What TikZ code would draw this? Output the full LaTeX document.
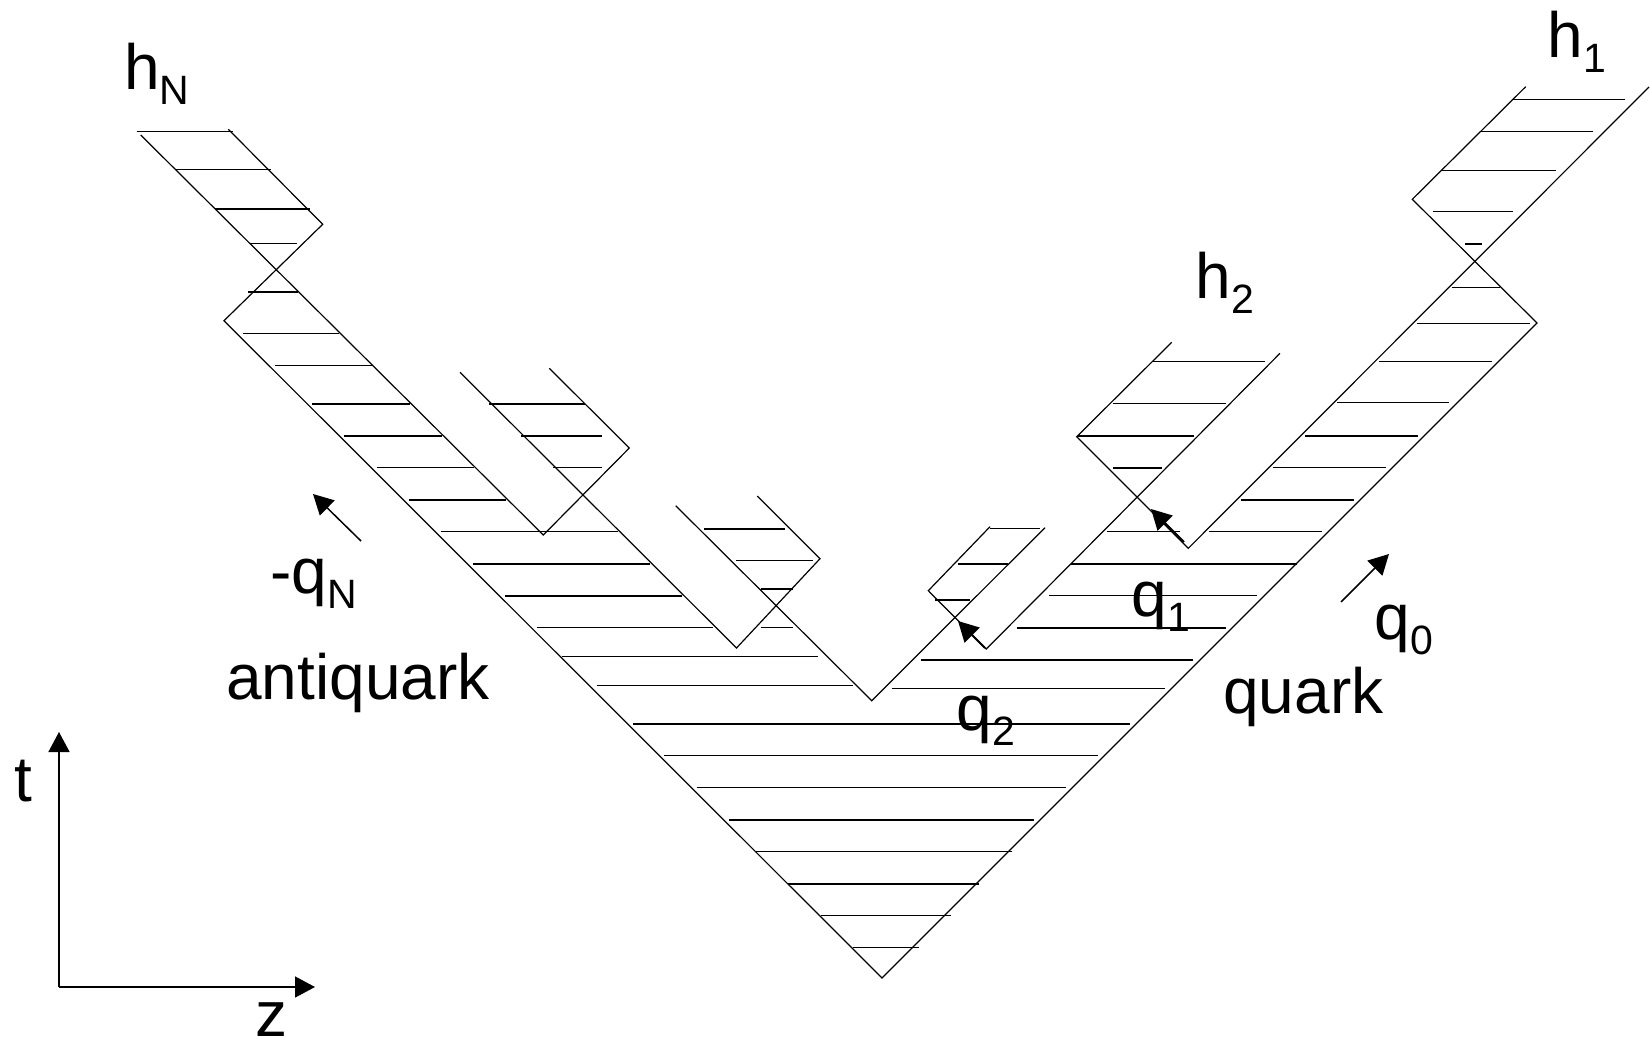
\documentclass[tikz,border=0pt]{standalone}
\usepackage{fontspec}
\setmainfont{Liberation Sans}
\usetikzlibrary{arrows.meta}
\newcommand{\lowsub}[1]{\raisebox{-7.5pt}{\fontsize{20.5}{21}\selectfont #1}}

\begin{document}
\begin{tikzpicture}[x=0.5pt, y=-0.5pt,
    >={Triangle[length=10pt, width=10.5pt]},
    edge/.style={line width=0.6pt, black},
    hatch/.style={line width=0.65pt, black},
    mom/.style={->, line width=0.75pt},
    kick/.style={->, line width=1pt},
    axis/.style={->, line width=0.75pt},
    lbl/.style={font=\fontsize{32}{38}\selectfont, inner sep=0pt,
        anchor=base west}]

  \useasboundingbox (0,0) rectangle (1650,1044);

  % ---- vertices of the string area ----
  \coordinate (A)    at (882,978);
  \coordinate (P)    at (224,320.7);
  \coordinate (HNr)  at (322.7,224.3);
  \coordinate (HNt)  at (228.3,129.3);
  \coordinate (HNl)  at (140.7,135);
  \coordinate (VN)   at (543.3,535);
  \coordinate (HNa)  at (629.3,448);
  \coordinate (HNat) at (549.3,368.3);
  \coordinate (HNal) at (460,372.3);
  \coordinate (VNa)  at (736.5,648);
  \coordinate (HNb)  at (820,558.7);
  \coordinate (HNbt) at (757.3,496);
  \coordinate (HNbl) at (675.7,505.7);
  \coordinate (B)    at (871.7,700.7);
  \coordinate (R)    at (1537,323);
  \coordinate (H1l)  at (1412.3,199.3);
  \coordinate (H1t)  at (1525.7,86.7);
  \coordinate (H1r)  at (1649,87);
  \coordinate (Q1)   at (1188.3,548.3);
  \coordinate (H2l)  at (1076.7,436.7);
  \coordinate (H2t)  at (1171.7,342.3);
  \coordinate (Q2)   at (986.3,649);
  \coordinate (H2r)  at (1280,353.3);
  \coordinate (H3l)  at (928.3,590.7);
  \coordinate (H3t)  at (990,526.7);
  \coordinate (H3r)  at (1045,527.7);

  % ---- hatching, quark side and bottom ----
  \draw[hatch] (1513.3,99.3) -- (1625,99.3) (1481,131.7) -- (1593.3,131.7)
    (1442.3,170.7) -- (1555.7,170.7) (1432.7,211.7) -- (1513.3,211.7)
    (1465,244) -- (1481.7,244) (1451.7,287.3) -- (1500,287.3)
    (1416.7,323.3) -- (1530,323.3) (1379.3,361.7) -- (1491.7,361.7)
    (1337.3,402.7) -- (1449.3,402.7) (1305,436) -- (1418.3,436)
    (1273.3,467.3) -- (1386,467.3) (1241,500) -- (1354,500)
    (1209.3,531.7) -- (1321.7,531.7) (1107.3,531.7) -- (1180,531.7)
    (1070.7,564) -- (1296.7,564) (1049,595.7) -- (1257.3,595.7)
    (1016.7,628) -- (1225.5,628) (920.7,660) -- (1193.3,660)
    (891.7,688.3) -- (1165,688.3) (633,724) -- (1130,724)
    (664.3,755.7) -- (1098.3,755.7) (696.7,787.7) -- (1065.7,787.7)
    (729,820) -- (1034,820) (755,851.7) -- (1011.7,851.7)
    (787.7,884) -- (979.3,884) (821,915.7) -- (950.5,915.7)
    (852.7,947.7) -- (918.5,947.7);

  % ---- hatching, h2 and the small hadron ----
  \draw[hatch] (1152.7,361.7) -- (1265,361.7) (1112.7,403.7) -- (1226,403.7)
    (1078,436) -- (1194,436) (1113.3,468) -- (1161.7,468)
    (990,528.3) -- (1040,528.3) (958.3,564) -- (1008.3,564)
    (935,600) -- (970,600);

  % ---- hatching, antiquark side ----
  \draw[hatch] (136.7,131.7) -- (233.3,131.7) (176,169.3) -- (270.7,169.3)
    (215,209) -- (310,209) (250,243.7) -- (297.3,243.7)
    (248.3,292) -- (298.3,292) (243.3,333.3) -- (339.3,333.3)
    (275,365.3) -- (371.7,365.3) (312.3,404) -- (410,404)
    (344.3,436) -- (442.3,436) (376.7,467.7) -- (474,467.7)
    (408.7,500) -- (506,500) (440.7,531.7) -- (618.3,531.7)
    (472.7,564) -- (650,564) (505,596) -- (681.7,596)
    (536.7,627.7) -- (713.3,627.7) (561.7,656.7) -- (818.3,656.7)
    (596.7,685.5) -- (853.3,685.5);
  \draw[hatch] (489.3,404) -- (585,404) (521,436) -- (601.7,436)
    (553.3,467.7) -- (601.7,467.7)
    (704,529) -- (785,529) (736,560.7) -- (813.3,560.7)
    (760.7,589) -- (793.3,589) (760.7,627.7) -- (793.3,627.7);

  % ---- boundaries ----
  \draw[edge] (HNt) -- (HNr) -- (P) -- (A) -- (R) -- (H1l) -- (H1t);
  \draw[edge] (HNl) -- (VN) -- (HNa) -- (HNat);
  \draw[edge] (HNal) -- (VNa) -- (HNb) -- (HNbt);
  \draw[edge] (HNbl) -- (B) -- (H3r);
  \draw[edge] (H3t) -- (H3l) -- (Q2) -- (H2r);
  \draw[edge] (H2t) -- (H2l) -- (Q1) -- (H1r);

  % ---- momenta ----
  \coordinate (qNa) at (361,541);  \coordinate (qNb) at (313,494);
  \coordinate (q0a) at (1341,602); \coordinate (q0b) at (1389,554);
  \coordinate (q1a) at (1184,542); \coordinate (q1b) at (1151,509);
  \coordinate (q2a) at (985,648);  \coordinate (q2b) at (958,621);
  \draw[mom] (qNa) -- (qNb);
  \draw[mom] (q0a) -- (q0b);
  \draw[kick] (q1a) -- (q1b);
  \draw[kick] (q2a) -- (q2b);

  % ---- axes ----
  \coordinate (O) at (59,987);
  \coordinate (tEnd) at (59,732);
  \coordinate (zEnd) at (315,987);
  \draw[axis] (O) -- (tEnd);
  \draw[axis] (O) -- (zEnd);

  % ---- labels ----
  \node[lbl] (hN) at (124,90) {h\lowsub{N}};
  \node[lbl] (h1) at (1547,57) {h\lowsub{1}};
  \node[lbl] (h2) at (1195,298) {h\lowsub{2}};
  \node[lbl] (qN) at (270,593) {-q\lowsub{N}};
  \node[lbl] (anti) at (226,699) {antiquark};
  \node[lbl] (quark) at (1223,713) {quark};
  \node[lbl] (q0) at (1374.5,639) {q\lowsub{0}};
  \node[lbl] (q1) at (1131,616.5) {q\lowsub{1}};
  \node[lbl] (q2) at (956,730) {q\lowsub{2}};
  \node[lbl] (t) at (14,801.7) {t};
  \node[lbl] (z) at (255.5,1036) {z};

\end{tikzpicture}
\end{document}
